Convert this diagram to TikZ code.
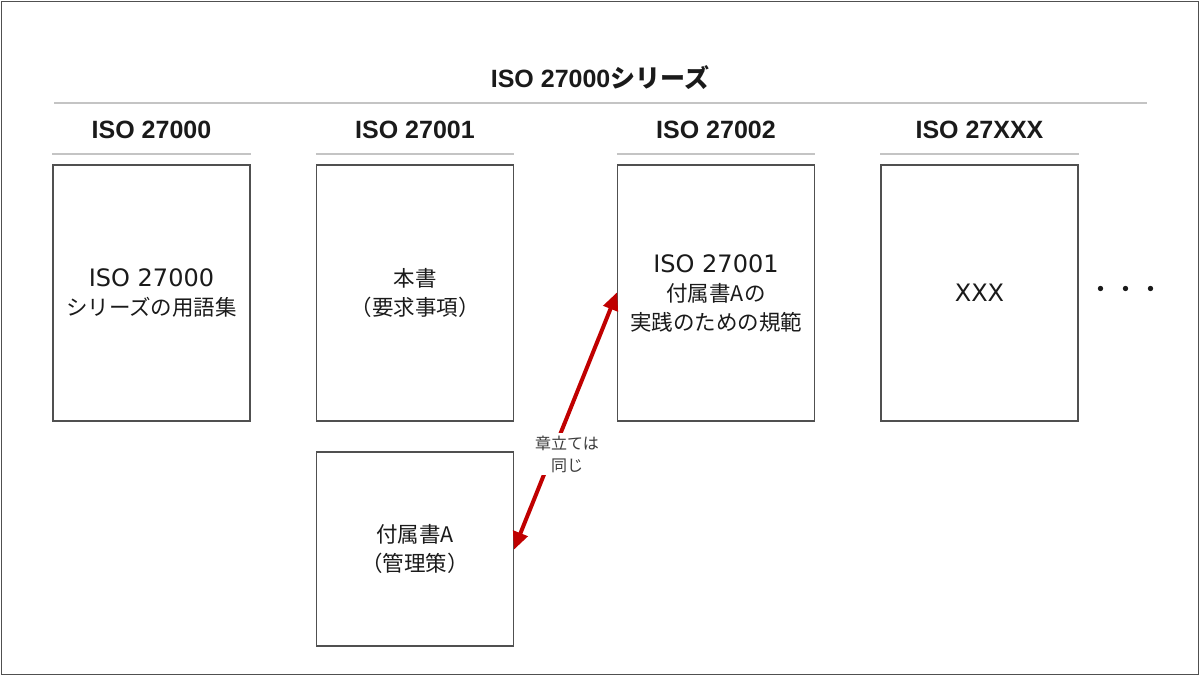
\documentclass[tikz,border=0pt]{standalone}
\usepackage{fontspec}
\setmainfont{Noto Sans CJK JP}
\newfontfamily\latfont{DejaVu Sans}
\newfontfamily\hdfont{Liberation Sans}
\usetikzlibrary{arrows.meta}
\definecolor{boxgray}{HTML}{505050}
\definecolor{sepgray}{HTML}{C4C4C4}
\definecolor{arrred}{HTML}{C00000}
\definecolor{txt}{HTML}{1A1A1A}
\newcommand{\Lt}[1]{{\latfont\fontsize{24}{29}\selectfont #1}}
\newcommand{\Hd}[1]{{\hdfont\bfseries\fontsize{25}{30}\selectfont #1}}
\tikzset{
  docbox/.style={draw=boxgray, line width=1.3pt, minimum width=197pt, minimum height=256pt,
    align=center, inner sep=0pt, text=txt, font=\fontsize{21.5}{29}\selectfont},
  hdr/.style={inner sep=0pt, text=txt},
  sepline/.style={draw=sepgray, line width=2pt},
  redarrow/.style={draw=arrred, line width=4pt, {Triangle[length=18pt,width=15pt]}-{Triangle[length=18pt,width=15pt]}, shorten <=-1pt, shorten >=-1pt},
  lbl/.style={fill=white, align=center, inner sep=3pt, text=txt!85, font=\fontsize{16}{22}\selectfont}
}
\begin{document}
\begin{tikzpicture}[x=1pt,y=-1pt]
\useasboundingbox (0,0) rectangle (1200,676);
\draw[boxgray, line width=1pt] (1.5,1.5) rectangle (1198.5,674.5);

\node[hdr] (title) at (600,78) {\Hd{ISO 27000}{\bfseries\fontsize{25}{30}\selectfont シリーズ}};
\coordinate (tl) at (54,103);
\coordinate (tr) at (1147,103);
\draw[sepline] (tl) -- (tr);

\node[docbox] (b1) at (151.5,293) {\Lt{ISO 27000}\\シリーズの用語集};
\node[docbox] (b2) at (415,293) {本書\\（要求事項）};
\node[docbox] (b3) at (716,293) {\Lt{ISO 27001}\\付属書Aの\\実践のための規範};
\node[docbox] (b4) at (979.5,293) {\Lt{XXX}};
\node[docbox, minimum height=194pt] (b5) at (415,549) {付属書A\\（管理策）};

\node[hdr] (h1) at (151.5,130) {\Hd{ISO 27000}};
\node[hdr] (h2) at (415,130) {\Hd{ISO 27001}};
\node[hdr] (h3) at (716,130) {\Hd{ISO 27002}};
\node[hdr] (h4) at (979.5,130) {\Hd{ISO 27XXX}};

\foreach \b in {b1,b2,b3,b4}{
  \draw[sepline] ([yshift=10pt]\b.north west) -- ([yshift=10pt]\b.north east);
}

\node[hdr, font=\fontsize{25}{30}\selectfont] (dots) at (1126,292) {・・・};

\draw[redarrow] (b5.east) -- (b3.west);
\node[lbl] (lab) at (567,454) {章立ては\\同じ};
\end{tikzpicture}
\end{document}
